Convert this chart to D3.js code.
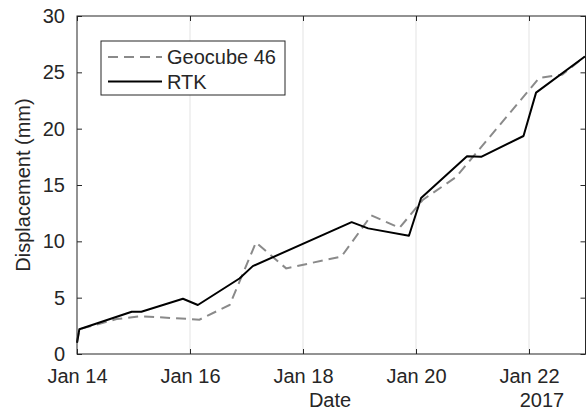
<!DOCTYPE html>
<html>
<head>
<meta charset="utf-8">
<script src="https://cdn.jsdelivr.net/npm/d3@7"></script>
<style>
  html, body { margin: 0; padding: 0; background: #fff; }
  svg { display: block; }
  text { font-family: "Liberation Sans", Arial, Helvetica, sans-serif; fill: #262626; }
</style>
</head>
<body>
<svg id="chart" width="587" height="413"></svg>
<script>
// Displacement time series (mm), January 2017
const rtkTimes = [
  "2017-01-14T00:00", "2017-01-14T01:00", "2017-01-14T23:15", "2017-01-15T03:20",
  "2017-01-15T21:00", "2017-01-16T03:20", "2017-01-16T21:00", "2017-01-17T02:40",
  "2017-01-18T20:40", "2017-01-19T03:40", "2017-01-19T21:00", "2017-01-20T02:10",
  "2017-01-20T21:40", "2017-01-21T03:40", "2017-01-21T21:40", "2017-01-22T03:00",
  "2017-01-22T23:45"
];
const rtkValues = [1.0, 2.2, 3.75, 3.75, 4.9, 4.35, 6.7, 7.8, 11.7, 11.15, 10.5, 13.85, 17.55, 17.5, 19.35, 23.2, 26.4];

const geoTimes = [
  "2017-01-14T00:00", "2017-01-14T01:00", "2017-01-14T16:50", "2017-01-15T03:10",
  "2017-01-16T04:00", "2017-01-16T16:50", "2017-01-17T04:00", "2017-01-17T16:50",
  "2017-01-18T16:20", "2017-01-19T05:00", "2017-01-19T17:00", "2017-01-20T03:00",
  "2017-01-20T17:00", "2017-01-22T04:20", "2017-01-22T14:10", "2017-01-22T23:45"
];
const geoValues = [1.0, 2.2, 3.1, 3.35, 3.05, 4.35, 9.9, 7.6, 8.65, 12.3, 11.2, 13.7, 15.7, 24.5, 24.8, 26.4];

const xTickTimes = ["2017-01-14T00:00", "2017-01-16T00:00", "2017-01-18T00:00", "2017-01-20T00:00", "2017-01-22T00:00"];
const xTickLabels = ["Jan 14", "Jan 16", "Jan 18", "Jan 20", "Jan 22"];
const yTicks = [0, 5, 10, 15, 20, 25, 30];
const seriesNames = ["Geocube 46", "RTK"];

const parse = d3.utcParse("%Y-%m-%dT%H:%M");
const rtk = rtkTimes.map((t, i) => ({ t: parse(t), v: rtkValues[i] }));
const geo = geoTimes.map((t, i) => ({ t: parse(t), v: geoValues[i] }));
const xTicks = xTickTimes.map(parse);

const L = 77, R = 585.5, T = 16, B = 354;
const fontSize = 20;

const x = d3.scaleUtc().domain([parse("2017-01-14T00:00"), parse("2017-01-23T00:00")]).range([L, R]);
const y = d3.scaleLinear().domain([0, 30]).range([B, T]);

const svg = d3.select("#chart");

// vertical grid at date ticks
svg.append("g").selectAll("line").data(xTicks.slice(1)).join("line")
  .attr("x1", d => x(d)).attr("x2", d => x(d))
  .attr("y1", T).attr("y2", B)
  .attr("stroke", "#e3e3e3").attr("stroke-width", 1);

const line = d3.line().x(d => x(d.t)).y(d => y(d.v));

svg.append("path").datum(geo)
  .attr("d", line).attr("fill", "none")
  .attr("stroke", "#8a8a8a").attr("stroke-width", 2)
  .attr("stroke-dasharray", "10,6");

svg.append("path").datum(rtk)
  .attr("d", line).attr("fill", "none")
  .attr("stroke", "#000").attr("stroke-width", 2)
  .attr("stroke-linejoin", "round");

// axes
const labelFmt = d => xTickLabels[xTicks.findIndex(t => +t === +d)];
const xAxis = svg.append("g").attr("transform", `translate(0,${B})`)
  .call(d3.axisBottom(x).tickValues(xTicks).tickFormat(labelFmt).tickSizeInner(-5).tickSizeOuter(0).tickPadding(15));
const xTop = svg.append("g").attr("transform", `translate(0,${T})`)
  .call(d3.axisTop(x).tickValues(xTicks).tickFormat("").tickSizeInner(-5).tickSizeOuter(0));
const yAxis = svg.append("g").attr("transform", `translate(${L},0)`)
  .call(d3.axisLeft(y).tickValues(yTicks).tickSizeInner(-5).tickSizeOuter(0).tickPadding(12));
const yRight = svg.append("g").attr("transform", `translate(${R},0)`)
  .call(d3.axisRight(y).tickValues(yTicks).tickFormat("").tickSizeInner(-5).tickSizeOuter(0));

[xAxis, xTop, yAxis, yRight].forEach(g => {
  g.select(".domain").remove();
  g.selectAll("line").attr("stroke", "#262626");
  g.selectAll("text").attr("font-size", fontSize).attr("font-family", null).attr("fill", "#262626");
});

// axes box
svg.append("rect").attr("x", L).attr("y", T).attr("width", R - L).attr("height", B - T)
  .attr("fill", "none").attr("stroke", "#262626").attr("stroke-width", 1);

// axis titles
svg.append("text").attr("x", 330).attr("y", 407).attr("text-anchor", "middle")
  .attr("font-size", fontSize).text("Date");
svg.append("text").attr("x", 542).attr("y", 407).attr("text-anchor", "middle")
  .attr("font-size", fontSize).text("2017");
svg.append("text").attr("transform", "translate(30,185) rotate(-90)").attr("text-anchor", "middle")
  .attr("font-size", fontSize).text("Displacement (mm)");

// legend
const lg = svg.append("g");
lg.append("rect").attr("x", 101).attr("y", 41).attr("width", 184).attr("height", 54)
  .attr("fill", "#fff").attr("stroke", "#262626").attr("stroke-width", 1);
const rows = [
  { name: seriesNames[0], color: "#8a8a8a", dash: "10,6", y: 57 },
  { name: seriesNames[1], color: "#000", dash: null, y: 81.5 }
];
rows.forEach(r => {
  lg.append("line").attr("x1", 108).attr("x2", 162).attr("y1", r.y).attr("y2", r.y)
    .attr("stroke", r.color).attr("stroke-width", 2).attr("stroke-dasharray", r.dash);
  lg.append("text").attr("x", 167).attr("y", r.y + 7).attr("font-size", fontSize).text(r.name);
});
</script>
</body>
</html>
